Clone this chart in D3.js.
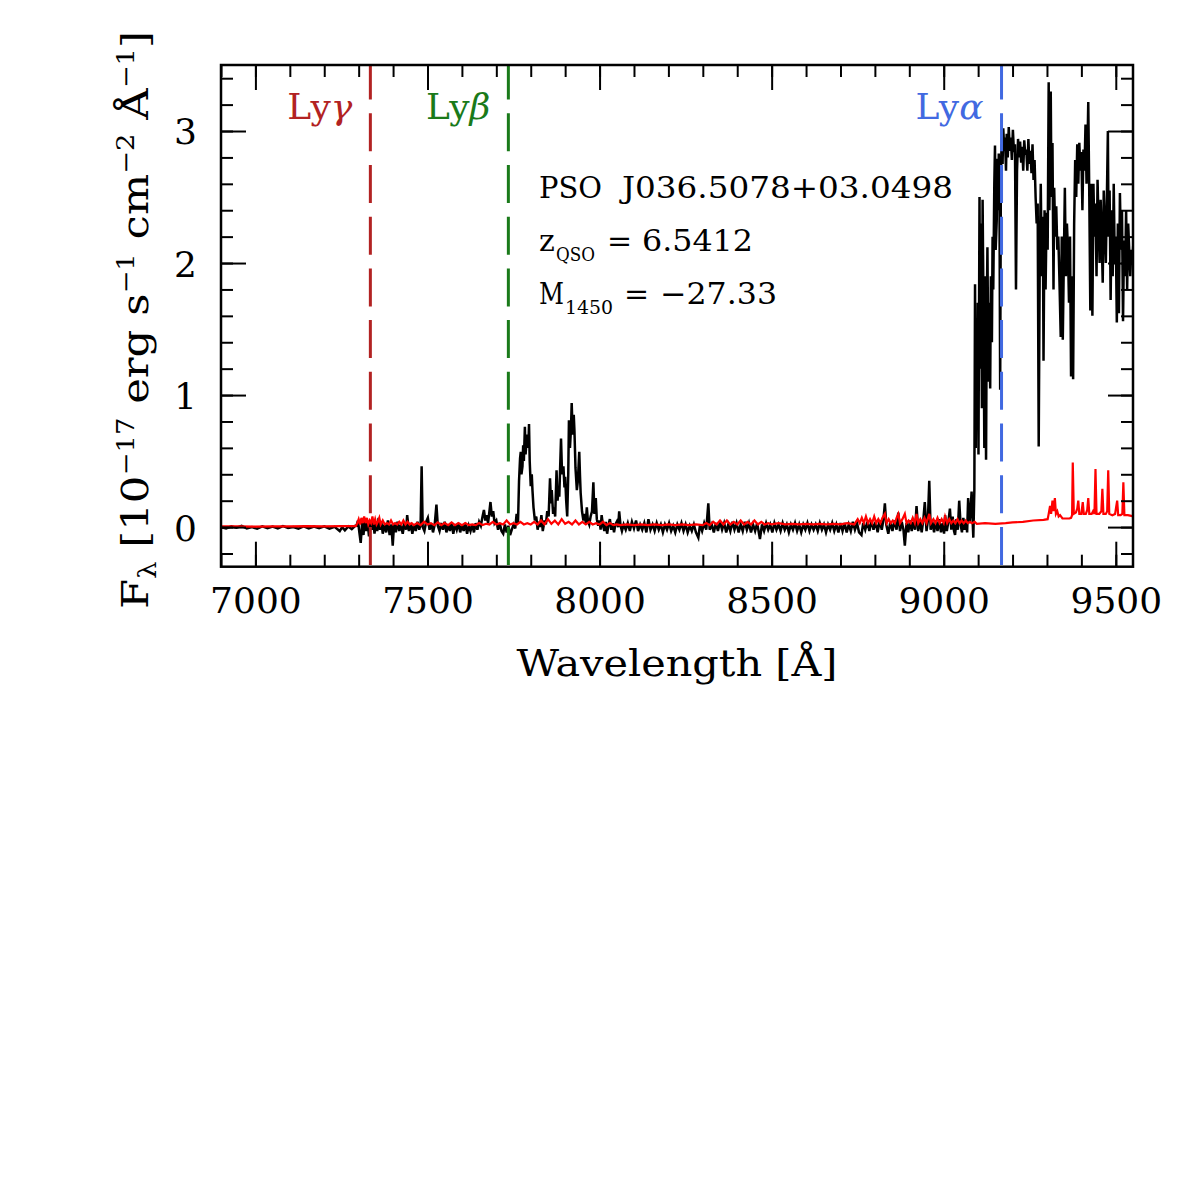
<!DOCTYPE html>
<html><head><meta charset="utf-8">
<script src="https://cdn.jsdelivr.net/npm/d3@7"></script>
<style>
body{margin:0;background:#fff}
svg{display:block}
text{font-family:"DejaVu Serif",serif;fill:#000}
</style>
</head><body><div id="chart"></div>
<script>
// ---------------- data ----------------
const xDomain = [6900, 9550];
const yDomain = [-0.3, 3.5];
const xTickValues = [7000, 7500, 8000, 8500, 9000, 9500];
const yTickValues = [0, 1, 2, 3];
const xTickLabels = ["7000", "7500", "8000", "8500", "9000", "9500"];
const yTickLabels = ["0", "1", "2", "3"];

const lineNames = ["γ", "β", "α"];
const lineWaves = [7334, 7735, 9168];
const lineColors = ["#b22222", "#1a7a1a", "#4169e1"];

const objName = "J036.5078+03.0498";
const zText = "6.5412";
const mText = "\u221227.33";

// observed flux [wavelength (Å), F_lambda]
const fluxBlack = [
[6900,0.00],[6915,-0.01],[6930,0.005],[6945,-0.005],[6960,0.01],[6975,-0.01],[6990,0.0],[7005,-0.012],[7020,0.006],[7035,-0.008],[7050,0.004],[7065,-0.01],[7080,0.008],[7095,-0.006],[7110,0.0],[7125,-0.012],[7140,0.005],[7155,-0.01],[7170,0.004],[7185,-0.008],[7200,0.006],[7215,-0.012],[7230,0.002],[7245,-0.03],[7252,0.0],[7260,-0.025],[7270,0.005],[7280,-0.015],[7290,0.01],
[7294,0.01],[7298,0.05],[7302,-0.04],[7306,-0.12],[7310,0.03],[7314,-0.06],[7318,0.06],[7322,-0.03],[7326,0.04],[7330,-0.07],[7334,0.05],[7338,-0.02],[7342,0.06],[7346,-0.05],[7350,0.03],[7354,-0.03],[7358,0.07],[7362,-0.02],[7366,0.04],[7370,-0.05],[7375,0.02],[7380,-0.04],[7385,0.05],[7390,-0.06],[7395,0.02],[7399,-0.14],[7403,0.03],[7408,-0.04],[7413,0.04],[7418,-0.03],[7423,0.02],[7428,-0.05],[7433,0.03],[7438,-0.02],[7441,0.09],[7446,-0.03],[7451,0.03],[7456,-0.05],[7461,0.02],[7466,-0.03],[7471,0.04],[7476,-0.02],[7480,0.02],[7483,0.46],[7486,0.0],[7491,-0.03],[7496,0.04],[7501,0.07],[7506,-0.02],[7511,0.03],[7516,-0.04],[7521,0.02],[7526,0.17],[7530,0.01],[7535,-0.03],[7540,0.03],[7545,-0.02],[7550,0.04],[7555,-0.04],[7560,0.02],[7565,-0.03],[7570,0.03],[7575,-0.05],[7580,0.02],[7585,-0.02],[7590,0.03],[7595,-0.04],[7600,0.02],[7605,-0.03],[7610,0.03],[7615,-0.05],[7620,0.01],[7625,-0.03],[7630,0.02],[7635,-0.04],[7640,0.03],[7645,-0.02],[7650,0.04],[7655,0.01],[7660,0.08],[7664,0.13],[7668,0.05],[7672,0.09],[7676,0.03],[7680,0.12],[7683,0.19],[7687,0.08],[7691,0.12],[7695,0.03],[7700,0.05],[7705,-0.02],[7710,0.03],[7715,-0.03],[7720,-0.05],[7725,0.02],[7730,-0.04],[7735,0.01],[7740,-0.06],[7745,-0.02],[7750,0.02],[7755,-0.01],[7759,0.1],
[7763,0.03],[7766,0.35],[7769,0.52],[7771,0.57],[7773,0.4],[7776,0.46],[7778,0.62],[7780,0.5],[7783,0.76],[7785,0.55],[7788,0.66],[7790,0.7],[7793,0.6],[7795,0.78],[7797,0.5],[7800,0.31],[7803,0.4],[7805,0.28],[7808,0.15],[7812,0.05],[7816,0.08],[7820,-0.02],[7824,0.04],[7827,0.0],[7831,0.09],[7835,-0.03],[7840,0.05],[7844,0.02],[7848,0.12],[7852,0.08],[7856,0.37],[7859,0.18],[7861,0.28],[7865,0.1],[7868,0.15],[7871,0.08],[7875,0.43],[7878,0.2],[7881,0.3],[7883,0.23],[7886,0.5],[7888,0.67],[7891,0.4],[7895,0.46],[7898,0.3],[7900,0.38],[7903,0.2],[7906,0.08],[7909,0.4],[7911,0.81],[7914,0.6],[7917,0.75],[7919,0.94],[7922,0.7],[7925,0.85],[7927,0.73],[7930,0.45],[7934,0.28],[7937,0.35],[7941,0.57],[7943,0.4],[7945,0.26],[7949,0.12],[7953,0.05],[7957,0.1],[7960,0.03],[7963,0.15],[7966,0.05],[7970,0.02],[7974,0.08],[7978,0.12],[7982,0.34],[7985,0.1],[7989,0.22],[7992,0.06],[7996,0.01],[8000,0.05],[8003,-0.02],[8006,0.09],[8010,0.01],[8014,-0.03],[8018,0.04],[8022,-0.05],[8026,0.02],[8030,0.06],[8034,-0.02],[8038,0.03],[8042,-0.04],[8046,0.02],[8050,0.04],[8054,0.0],[8057,0.12],[8061,0.01],[8065,-0.03],[8070,0.02],
[8076,-0.02],[8082,0.03],[8088,-0.03],[8094,0.04],[8100,-0.01],[8106,0.05],[8112,-0.03],[8118,0.02],[8124,-0.02],[8130,0.03],[8136,-0.04],[8142,0.06],[8148,-0.02],[8154,0.02],[8160,-0.03],[8166,0.03],[8172,-0.02],[8178,0.02],[8184,-0.04],[8190,0.02],[8196,-0.02],[8202,0.03],[8208,-0.03],[8214,0.01],[8220,-0.04],[8226,0.02],[8232,-0.02],[8238,0.03],[8244,-0.03],[8250,0.02],[8256,-0.04],[8262,0.01],[8268,-0.03],[8274,0.02],[8280,-0.04],[8287,-0.08],[8292,0.02],[8298,-0.03],[8304,0.03],[8310,-0.02],[8316,0.18],[8320,-0.02],[8326,0.02],[8332,-0.04],[8338,0.03],[8344,-0.03],[8350,0.04],[8356,-0.02],[8362,0.03],[8368,-0.04],[8374,0.02],[8380,-0.03],[8386,0.04],[8392,-0.02],[8398,0.03],[8404,-0.04],[8410,0.02],[8416,-0.03],[8422,0.04],[8428,-0.02],[8434,0.03],[8440,-0.04],[8446,0.02],[8452,-0.03],[8458,0.03],[8466,-0.09],[8472,0.02],[8478,-0.03],[8484,0.03],[8490,-0.02],[8496,0.02],[8502,-0.04],[8508,0.03],[8514,-0.02],[8520,0.02],[8526,-0.03],[8532,0.03],[8538,-0.02],[8544,0.02],[8550,-0.04],[8556,0.02],[8562,-0.02],[8568,0.03],[8574,-0.03],[8580,0.02],[8586,-0.04],[8592,0.02],[8598,-0.02],[8604,0.03],[8610,-0.03],[8616,0.02],[8622,-0.02],[8628,0.02],[8634,-0.03],[8640,0.03],[8646,-0.02],[8652,0.02],[8658,-0.04],[8664,0.02],[8670,-0.02],[8676,0.03],[8682,-0.03],[8688,0.02],[8694,-0.04],[8700,0.03],[8706,-0.03],[8712,0.03],[8718,-0.04],[8724,0.02],[8730,-0.03],[8736,0.04],[8742,-0.02],[8748,0.03],[8754,-0.04],[8761,-0.06],[8766,0.03],[8772,-0.02],[8778,0.04],[8784,-0.03],[8790,0.05],[8796,-0.02],[8802,0.04],[8808,-0.04],[8814,0.05],[8820,-0.02],[8825,0.06],[8829,0.18],[8833,0.02],[8839,-0.05],[8845,0.04],[8851,-0.03],[8857,0.05],[8863,-0.02],[8868,0.11],[8873,-0.03],[8878,0.04],[8883,-0.02],[8887,-0.14],[8892,0.03],[8897,-0.04],[8902,0.05],[8907,-0.03],[8912,0.04],[8917,-0.02],[8921,0.16],[8926,-0.03],[8931,0.05],[8936,-0.04],[8941,0.06],[8945,0.19],[8950,-0.03],[8954,0.05],[8958,0.35],[8962,-0.02],[8967,0.04],[8972,-0.04],[8977,0.05],[8982,-0.03],[8987,0.06],[8992,-0.04],[8997,0.03],[9001,-0.05],[9004,0.09],[9009,-0.03],[9014,0.05],[9018,0.14],[9022,-0.02],[9026,0.08],[9030,-0.03],[9033,-0.06],[9037,0.06],[9041,-0.02],[9045,0.2],[9049,0.02],[9053,-0.04],[9057,0.07],[9061,-0.02],[9065,0.05],[9068,-0.04],[9071,0.22],[9075,0.03],[9078,0.12],[9081,0.27],[9084,0.05],[9086,-0.08],[9089,0.28],
[9091,1.84],[9093,0.6],[9095,1.4],[9097,0.8],[9099,1.7],[9101,0.55],[9104,2.5],[9106,1.2],[9108,2.3],[9111,0.9],[9113,2.48],[9116,1.5],[9118,0.6],[9120,1.9],[9123,0.51],[9125,1.6],[9127,2.12],[9130,1.1],[9132,1.7],[9135,1.05],[9137,1.9],[9140,1.4],[9142,2.2],[9144,1.8],[9147,2.6],[9149,2.89],[9151,2.1],[9154,2.32],[9156,2.79],[9158,2.4],[9160,2.83],[9162,2.5],[9164,1.04],[9166,2.6],[9168,2.9],[9171,2.75],[9173,3.02],[9176,2.85],[9178,2.95],[9181,2.7],[9183,2.98],[9186,2.8],[9189,3.03],[9192,2.85],[9195,2.95],[9198,2.78],[9201,3.01],[9204,2.84],[9207,2.9],[9210,1.8],[9213,2.7],[9216,2.94],[9219,2.8],[9222,2.92],[9225,2.76],[9228,2.88],[9231,2.7],[9234,2.93],[9237,2.82],[9240,2.86],[9243,2.7],[9246,2.94],[9249,2.75],[9252,2.85],[9255,2.68],[9258,2.9],[9261,2.63],[9264,2.78],[9267,2.5],[9270,2.3],[9273,2.45],[9276,0.61],[9279,2.0],[9282,2.6],[9285,1.9],[9288,2.35],[9290,1.26],[9293,2.4],[9296,1.8],[9299,2.38],[9302,2.1],[9305,3.37],[9307,2.4],[9309,2.76],[9311,3.3],[9313,2.5],[9316,2.91],[9319,1.8],[9321,2.57],[9324,2.2],[9327,2.43],[9330,2.1],[9333,2.2],[9336,1.9],[9340,1.44],[9343,2.2],[9346,1.42],[9349,2.02],[9352,2.57],[9355,1.9],[9358,2.3],[9361,2.1],[9364,1.7],[9367,2.2],[9370,1.14],[9373,1.9],[9376,1.12],[9379,2.3],[9382,2.78],[9385,2.5],[9388,2.9],[9391,2.6],[9394,2.91],[9397,2.7],[9400,2.84],[9403,2.4],[9406,2.86],[9409,2.7],[9412,3.05],[9415,2.6],[9418,2.91],[9420,3.22],[9423,2.5],[9426,1.64],[9429,2.6],[9432,1.6],[9435,2.6],[9438,2.2],[9441,2.45],[9444,1.9],[9447,2.63],[9450,2.3],[9453,2.0],[9456,2.48],[9459,2.2],[9462,1.85],[9465,2.55],[9468,2.3],[9471,2.0],[9474,2.48],[9477,3.0],[9479,2.2],[9482,2.55],[9485,1.72],[9488,2.4],[9491,1.9],[9494,2.6],[9497,2.0],[9500,2.2],[9503,1.55],[9506,2.3],[9509,1.62],[9512,2.53],[9515,2.1],[9518,2.4],[9521,1.56],[9524,2.17],[9527,1.9],[9530,2.4],[9533,1.8],[9536,2.3],[9539,2.1],[9542,1.9],[9545,2.1],[9548,2.0],[9552,2.2]
];

// noise (error) spectrum [wavelength (Å), sigma]
const fluxError = [
[6900,0.005],[6950,0.006],[7000,0.004],[7050,0.006],[7100,0.005],[7150,0.007],[7200,0.005],[7250,0.007],[7292,0.008],
[7296,0.03],[7300,0.06],[7304,0.02],[7308,0.07],[7312,0.03],[7316,0.08],[7320,0.03],[7324,0.07],[7328,0.02],[7332,0.05],[7336,0.03],[7340,0.08],[7344,0.02],[7348,0.06],[7352,0.02],[7356,0.04],[7360,0.07],[7364,0.02],[7370,0.05],[7376,0.02],[7382,0.03],[7388,0.02],[7394,0.05],[7400,0.02],[7406,0.03],[7412,0.02],[7418,0.04],[7424,0.02],[7430,0.05],[7436,0.02],[7442,0.04],[7448,0.02],[7454,0.03],[7460,0.015],[7470,0.03],[7480,0.015],[7490,0.04],[7500,0.02],[7510,0.03],[7520,0.015],[7530,0.035],[7540,0.015],[7550,0.03],[7560,0.015],[7570,0.035],[7580,0.015],[7590,0.03],[7600,0.015],[7610,0.03],[7620,0.015],[7630,0.02],[7640,0.015],[7650,0.03],[7660,0.015],[7670,0.025],[7680,0.02],[7690,0.04],[7700,0.02],[7710,0.03],[7720,0.02],[7730,0.05],[7740,0.02],[7750,0.03],[7760,0.02],[7770,0.04],[7780,0.02],[7790,0.03],[7800,0.02],[7810,0.04],[7820,0.02],[7830,0.05],[7840,0.02],[7850,0.06],[7860,0.025],[7870,0.05],[7880,0.02],[7890,0.06],[7900,0.025],[7910,0.04],[7920,0.02],[7930,0.05],[7940,0.02],[7950,0.04],[7960,0.02],[7970,0.04],[7980,0.02],[7990,0.03],[8000,0.02],[8010,0.04],[8020,0.015],[8030,0.03],[8040,0.015],[8050,0.02],[8060,0.015],[8080,0.02],[8100,0.015],[8120,0.02],[8140,0.015],[8160,0.02],[8180,0.015],[8200,0.02],[8220,0.015],[8240,0.02],[8260,0.015],[8280,0.02],[8300,0.015],[8310,0.03],[8320,0.015],[8330,0.04],[8340,0.02],[8350,0.05],[8360,0.02],[8370,0.05],[8380,0.02],[8390,0.04],[8400,0.02],[8410,0.05],[8420,0.02],[8430,0.04],[8440,0.02],[8450,0.05],[8460,0.02],[8470,0.04],[8480,0.02],[8490,0.03],[8500,0.02],[8520,0.03],[8540,0.02],[8560,0.025],[8580,0.02],[8600,0.025],[8620,0.02],[8640,0.025],[8660,0.02],[8680,0.025],[8700,0.02],[8720,0.03],[8740,0.02],[8750,0.06],[8756,0.03],[8762,0.07],[8768,0.03],[8774,0.08],[8780,0.03],[8786,0.06],[8792,0.03],[8798,0.08],[8804,0.03],[8810,0.06],[8816,0.03],[8822,0.07],[8829,0.1],[8834,0.03],[8840,0.06],[8846,0.03],[8852,0.05],[8858,0.03],[8863,0.07],[8868,0.1],[8873,0.03],[8880,0.06],[8887,0.1],[8892,0.03],[8898,0.05],[8904,0.03],[8910,0.07],[8916,0.03],[8921,0.1],[8926,0.03],[8932,0.06],[8938,0.03],[8944,0.07],[8950,0.03],[8958,0.1],[8963,0.03],[8970,0.06],[8976,0.03],[8982,0.07],[8988,0.03],[8994,0.06],[9000,0.03],[9004,0.08],[9010,0.03],[9016,0.06],[9022,0.03],[9028,0.05],[9034,0.03],[9040,0.06],[9046,0.03],[9052,0.05],[9058,0.03],[9064,0.05],[9070,0.03],[9076,0.04],[9082,0.03],[9090,0.04],
[9096,0.025],[9120,0.03],[9150,0.025],[9180,0.03],[9200,0.035],[9230,0.04],[9260,0.05],[9290,0.055],[9302,0.06],[9305,0.1],[9309,0.16],[9312,0.1],[9316,0.2],[9319,0.12],[9323,0.22],[9326,0.1],[9330,0.12],[9334,0.08],[9338,0.09],[9345,0.065],[9355,0.065],[9365,0.065],
[9370,0.07],[9373,0.09],[9375,0.49],[9378,0.1],[9384,0.11],[9388,0.14],[9391,0.2],[9394,0.1],[9400,0.1],[9404,0.19],[9407,0.1],[9413,0.1],[9417,0.13],[9420,0.22],[9423,0.1],[9430,0.1],[9434,0.12],[9438,0.1],[9441,0.44],[9444,0.1],[9452,0.1],[9458,0.12],[9461,0.29],[9464,0.1],[9471,0.1],[9475,0.12],[9478,0.43],[9481,0.1],[9490,0.09],[9498,0.1],[9501,0.15],[9504,0.2],[9507,0.09],[9514,0.09],[9519,0.1],[9522,0.34],[9525,0.09],[9535,0.09],[9545,0.085],[9552,0.08]
];

// ---------------- drawing ----------------
const W = 1196, H = 1196;
const M = {left: 221, top: 65, right: 1133, bottom: 566.7};
const svg = d3.select("#chart").append("svg").attr("width", W).attr("height", H);

const x = d3.scaleLinear().domain(xDomain).range([M.left, M.right]);
const y = d3.scaleLinear().domain(yDomain).range([M.bottom, M.top]);

svg.append("clipPath").attr("id", "clip").append("rect")
  .attr("x", M.left).attr("y", M.top).attr("width", M.right - M.left).attr("height", M.bottom - M.top);

const line = d3.line().x(d => x(d[0])).y(d => y(d[1]));
const plot = svg.append("g").attr("clip-path", "url(#clip)");

plot.append("path").datum(fluxBlack).attr("d", line)
  .attr("fill", "none").attr("stroke", "#000").attr("stroke-width", 2.5).attr("stroke-linejoin", "miter");
plot.append("path").datum(fluxError).attr("d", line)
  .attr("fill", "none").attr("stroke", "#ff0000").attr("stroke-width", 2.2);

// dashed Lyman lines
lineWaves.forEach((w, i) => {
  svg.append("line").attr("x1", x(w)).attr("x2", x(w)).attr("y1", M.top).attr("y2", M.bottom)
    .attr("stroke", lineColors[i]).attr("stroke-width", 3)
    .attr("stroke-dasharray", "38,13.7").attr("stroke-dashoffset", 3.4);
  const t = svg.append("text").attr("x", x(w) - 18).attr("y", 119)
    .attr("text-anchor", "end").attr("font-size", 36).style("fill", lineColors[i]);
  t.append("tspan").text("Ly");
  t.append("tspan").attr("font-style", "italic").text(lineNames[i]);
});

// axes (ticks pointing inward)
const xMinor = d3.range(6900, 9551, 100);
const yMinor = d3.range(-0.2, 3.51, 0.2).map(v => Math.round(v * 10) / 10);

function styleAxis(g) {
  g.select(".domain").remove();
  g.selectAll(".tick line").attr("stroke", "#000").attr("stroke-width", 2);
}
const gx = svg.append("g").attr("transform", `translate(0,${M.bottom})`)
  .call(d3.axisBottom(x).tickValues(xTickValues).tickSize(-25).tickPadding(0)
    .tickFormat((d, i) => xTickLabels[i]));
styleAxis(gx);
gx.selectAll("text").attr("y", 46.5).attr("dy", null).attr("font-size", 36)
  .style("font-family", "DejaVu Serif").style("fill", "#000");
svg.append("g").attr("transform", `translate(0,${M.bottom})`)
  .call(d3.axisBottom(x).tickValues(xMinor).tickSize(-12).tickFormat("")).call(styleAxis);
svg.append("g").attr("transform", `translate(0,${M.top})`)
  .call(d3.axisTop(x).tickValues(xTickValues).tickSize(-25).tickFormat("")).call(styleAxis);
svg.append("g").attr("transform", `translate(0,${M.top})`)
  .call(d3.axisTop(x).tickValues(xMinor).tickSize(-12).tickFormat("")).call(styleAxis);

const gy = svg.append("g").attr("transform", `translate(${M.left},0)`)
  .call(d3.axisLeft(y).tickValues(yTickValues).tickSize(-25).tickPadding(24)
    .tickFormat((d, i) => yTickLabels[i]));
styleAxis(gy);
gy.selectAll("text").attr("dy", "0.36em").attr("font-size", 36)
  .style("font-family", "DejaVu Serif").style("fill", "#000");
svg.append("g").attr("transform", `translate(${M.left},0)`)
  .call(d3.axisLeft(y).tickValues(yMinor).tickSize(-12).tickFormat("")).call(styleAxis);
svg.append("g").attr("transform", `translate(${M.right},0)`)
  .call(d3.axisRight(y).tickValues(yTickValues).tickSize(-25).tickFormat("")).call(styleAxis);
svg.append("g").attr("transform", `translate(${M.right},0)`)
  .call(d3.axisRight(y).tickValues(yMinor).tickSize(-12).tickFormat("")).call(styleAxis);

// frame
svg.append("rect").attr("x", M.left).attr("y", M.top)
  .attr("width", M.right - M.left).attr("height", M.bottom - M.top)
  .attr("fill", "none").attr("stroke", "#000").attr("stroke-width", 2.5);

// axis titles
svg.append("text").attr("x", (M.left + M.right) / 2).attr("y", 676)
  .attr("text-anchor", "middle").attr("font-size", 38)
  .attr("textLength", 321).attr("lengthAdjust", "spacingAndGlyphs")
  .text("Wavelength [Å]");

const yl = svg.append("text").attr("transform", "translate(148,320) rotate(-90)")
  .attr("text-anchor", "middle").attr("font-size", 38)
  .attr("textLength", 578).attr("lengthAdjust", "spacingAndGlyphs");
yl.append("tspan").text("F");
yl.append("tspan").attr("font-size", 24).attr("dy", 8).text("λ");
yl.append("tspan").attr("dy", -8).text(" [10");
yl.append("tspan").attr("font-size", 24).attr("dy", -14).text("\u221217");
yl.append("tspan").attr("dy", 14).text(" erg s");
yl.append("tspan").attr("font-size", 24).attr("dy", -14).text("\u22121");
yl.append("tspan").attr("dy", 14).text(" cm");
yl.append("tspan").attr("font-size", 24).attr("dy", -14).text("\u22122");
yl.append("tspan").attr("dy", 14).text(" Å");
yl.append("tspan").attr("font-size", 24).attr("dy", -14).text("\u22121");
yl.append("tspan").attr("dy", 14).text("]");

// annotation
const ann = svg.append("g").attr("font-size", 30);
ann.append("text").attr("x", 539).attr("y", 198).attr("font-size", 30)
  .attr("textLength", 63).attr("lengthAdjust", "spacingAndGlyphs").text("PSO");
ann.append("text").attr("x", 622).attr("y", 198).attr("font-size", 30)
  .attr("textLength", 331).attr("lengthAdjust", "spacingAndGlyphs").text(objName);
ann.append("text").attr("x", 539).attr("y", 251).attr("font-size", 30).text("z");
ann.append("text").attr("x", 556).attr("y", 261).attr("font-size", 18)
  .attr("textLength", 39).attr("lengthAdjust", "spacingAndGlyphs").text("QSO");
ann.append("text").attr("x", 607).attr("y", 251).attr("font-size", 30).text("=");
ann.append("text").attr("x", 642).attr("y", 251).attr("font-size", 30)
  .attr("textLength", 111).attr("lengthAdjust", "spacingAndGlyphs").text(zText);
ann.append("text").attr("x", 539).attr("y", 304).attr("font-size", 30)
  .attr("textLength", 25).attr("lengthAdjust", "spacingAndGlyphs").text("M");
ann.append("text").attr("x", 565).attr("y", 314).attr("font-size", 18)
  .attr("textLength", 48).attr("lengthAdjust", "spacingAndGlyphs").text("1450");
ann.append("text").attr("x", 624).attr("y", 304).attr("font-size", 30).text("=");
ann.append("text").attr("x", 660).attr("y", 304).attr("font-size", 30)
  .attr("textLength", 117).attr("lengthAdjust", "spacingAndGlyphs").text(mText);
</script>
</body></html>
